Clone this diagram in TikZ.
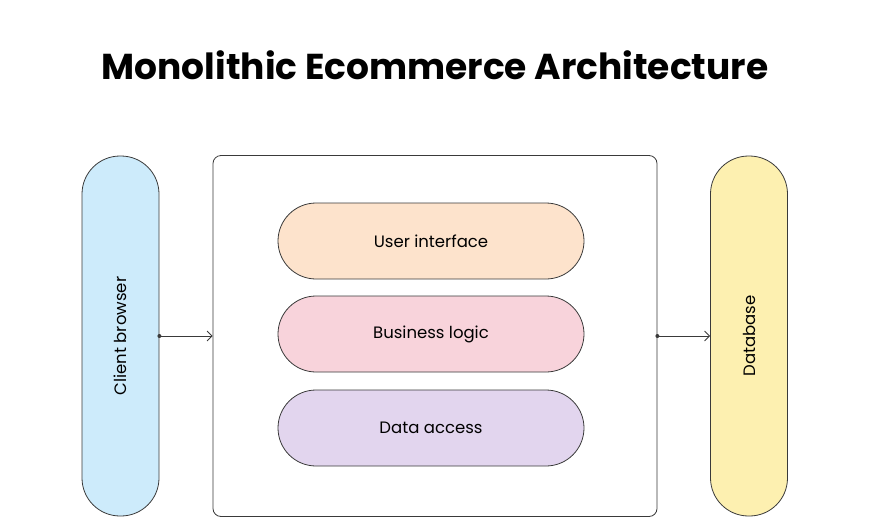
\documentclass[tikz,border=0pt]{standalone}
\usepackage{fontspec}
\setmainfont{Poppins}
\usetikzlibrary{arrows.meta,positioning}
\definecolor{clientblue}{HTML}{CDEBFB}
\definecolor{uipeach}{HTML}{FDE3CC}
\definecolor{logicpink}{HTML}{F8D3DB}
\definecolor{datalilac}{HTML}{E2D5EE}
\definecolor{dbyellow}{HTML}{FDF0B0}
\definecolor{edgegray}{HTML}{3A3A3A}
\begin{document}
\begin{tikzpicture}[
                    x=1pt, y=-1pt,
                    >={Straight Barb[length=5pt,width=10pt]},
                    pill/.style = {draw=edgegray, line width=0.8pt, rounded corners=38pt, minimum width=306pt, minimum height=76pt, font=\fontsize{16.5}{19}\selectfont},
                    side/.style = {draw=edgegray, line width=0.8pt, rounded corners=38pt, minimum width=360pt, minimum height=77pt, rotate=90, font=\fontsize{16.5}{19}\selectfont},
                    link/.style = {->, draw=edgegray, line width=0.8pt}]
    \useasboundingbox (0,0) rectangle (870,520);
    \node[font=\fontseries{sb}\selectfont\fontsize{36}{42}\selectfont] (title) at (435,65) {Monolithic Ecommerce Architecture};
    % outer block
    \node[draw=edgegray, line width=0.8pt, rounded corners=8pt, minimum width=444pt, minimum height=361pt] (mono) at (435,336) {};
    \node[pill, fill=uipeach]    (ui)    at (431,241) {User interface};
    \node[pill, fill=logicpink]  (logic) at (431,334) {Business logic};
    \node[pill, fill=datalilac]  (data)  at (431,428) {Data access};
    % sides
    \node[side, fill=clientblue] (client) at (120.5,336) {Client browser};
    \node[side, fill=dbyellow]   (db)     at (749,336)   {Database};
    \fill[edgegray] (client.south) circle (2pt);
    \fill[edgegray] (mono.east) circle (2pt);
    \draw[link] (client.south) -- (mono.west |- client.south);
    \draw[link] (mono.east) -- (db.north);
\end{tikzpicture}
\end{document}
